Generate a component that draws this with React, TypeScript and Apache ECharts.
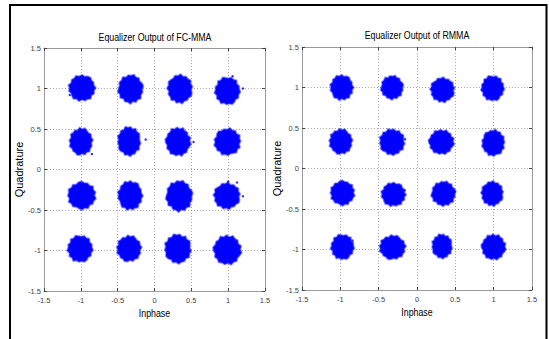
import React, { useEffect, useRef } from "react";
import * as echarts from "echarts";

// ---- Data (cluster centres and spreads) ----
// FC-MMA equalizer output: 16 clusters (in-phase, quadrature, half-width I, half-width Q)
const FC_I = [-0.984, -0.323, 0.346, 0.99, -0.998, -0.346, 0.319, 0.99, -0.988, -0.33, 0.337, 0.984, -1.01, -0.346, 0.316, 0.987];
const FC_Q = [1.006, 0.994, 0.994, 0.97, 0.343, 0.348, 0.343, 0.342, -0.321, -0.32, -0.327, -0.327, -0.98, -0.978, -0.979, -0.994];
const FC_RX = [0.19, 0.18, 0.18, 0.18, 0.165, 0.165, 0.18, 0.19, 0.2, 0.175, 0.19, 0.19, 0.18, 0.175, 0.19, 0.2];
const FC_RY = [0.17, 0.185, 0.185, 0.18, 0.177, 0.19, 0.185, 0.175, 0.18, 0.19, 0.2, 0.17, 0.175, 0.17, 0.19, 0.19];
// stray FC-MMA samples at the cluster edges
const FC_OUT_I = [-1.15, -0.85, -0.12, 0.53, 1.2, 1.06, 1.0, 1.12, 1.2];
const FC_OUT_Q = [0.92, 0.19, 0.37, 0.34, 1.0, 1.15, -0.15, -0.16, -0.33];

// RMMA equalizer output
const RM_I = [-0.981, -0.324, 0.333, 0.987, -0.994, -0.326, 0.317, 0.995, -0.972, -0.307, 0.346, 0.982, -0.972, -0.32, 0.326, 0.998];
const RM_Q = [1.0, 1.0, 0.97, 0.99, 0.331, 0.327, 0.327, 0.317, -0.302, -0.32, -0.31, -0.31, -0.97, -0.975, -0.96, -0.97];
const RM_RX = [0.158, 0.155, 0.167, 0.157, 0.158, 0.174, 0.174, 0.157, 0.167, 0.167, 0.167, 0.152, 0.159, 0.18, 0.14, 0.167];
const RM_RY = [0.165, 0.155, 0.16, 0.165, 0.165, 0.17, 0.16, 0.17, 0.16, 0.155, 0.16, 0.16, 0.165, 0.158, 0.158, 0.165];
const RM_OUT_I = [-0.84, -0.16, 0.49, -0.155];
const RM_OUT_Q = [-0.89, -0.27, -0.29, 0.36];

const TITLES = ["Equalizer Output of FC-MMA", "Equalizer Output of RMMA"];
const X_NAME = "Inphase";
const Y_NAME = "Quadrature";

// ---- style ----
const SANS = "'Liberation Sans', Arial, sans-serif";
const BLUE = "#0000ff";
// ragged outline of a cluster of samples (shape only)
const JAG = [1, 0.88, 0.97, 0.86, 1, 0.9, 0.95, 0.85, 0.99, 0.89, 1, 0.92, 0.87, 0.97, 0.9, 1, 0.86, 0.95, 0.9, 0.99, 0.88, 0.96, 0.85, 0.94, 0.98, 0.88, 0.93, 0.87];

const clusterRender = (params: any, api: any) => {
  const c = api.coord([api.value(0), api.value(1)]);
  const s = api.size([api.value(2), api.value(3)]);
  const n = JAG.length;
  const pts = JAG.map((m, k) => {
    const a = (k / n) * Math.PI * 2 + params.dataIndex * 0.7;
    return [c[0] + s[0] * m * Math.cos(a), c[1] + s[1] * m * Math.sin(a)];
  });
  return {
    type: "polygon",
    shape: { points: pts },
    style: { fill: BLUE, stroke: "rgba(50,50,255,0.5)", lineWidth: 1.8, lineJoin: "round" },
  };
};

const baseAxis = {
  type: "value" as const,
  min: -1.5,
  max: 1.5,
  interval: 0.5,
  axisLine: { show: true, onZero: false, lineStyle: { color: "#9a9a9a", width: 1 } },
  axisTick: { show: true, inside: true, length: 3, lineStyle: { color: "#444" } },
};

function xAxes(grid: number) {
  return [
    {
      ...baseAxis,
      gridIndex: grid,
      position: "bottom",
      axisLabel: { fontSize: 7.5, color: "#444", margin: 5, fontFamily: SANS, showMinLabel: true, showMaxLabel: true },
      splitLine: { show: true, lineStyle: { type: [1, 2], color: "#a8a8a8", width: 1 } },
    },
    {
      ...baseAxis,
      gridIndex: grid,
      position: "top",
      axisLabel: { show: false },
      splitLine: { show: false },
    },
  ];
}

function yAxes(grid: number, nameGap: number) {
  return [
    {
      ...baseAxis,
      gridIndex: grid,
      position: "left",
      axisLabel: { fontSize: 7.5, color: "#444", margin: 3, fontFamily: SANS, showMinLabel: true, showMaxLabel: true },
      splitLine: { show: true, lineStyle: { type: [1, 2], color: "#a8a8a8", width: 1 } },
      name: Y_NAME,
      nameLocation: "middle",
      nameGap,
      nameTextStyle: { fontSize: 11, color: "#000", fontFamily: SANS },
    },
    {
      ...baseAxis,
      gridIndex: grid,
      position: "right",
      axisLabel: { show: false },
      splitLine: { show: false },
    },
  ];
}

const narrowText = (text: string, x: number, y: number) => ({
  type: "text",
  x,
  y,
  scaleX: 0.8,
  silent: true,
  style: {
    text,
    fontSize: 11,
    fontFamily: SANS,
    fill: "#000",
    align: "center",
    verticalAlign: "middle",
    textAlign: "center",
    textVerticalAlign: "middle",
  },
});

export default function App() {
  const ref = useRef<HTMLDivElement>(null);

  useEffect(() => {
    if (!ref.current) return;
    const chart = echarts.init(ref.current, undefined, { renderer: "svg" });

    const fcData = FC_I.map((x, i) => [x, FC_Q[i], FC_RX[i], FC_RY[i]]);
    const rmData = RM_I.map((x, i) => [x, RM_Q[i], RM_RX[i], RM_RY[i]]);
    const fcOut = FC_OUT_I.map((x, i) => [x, FC_OUT_Q[i]]);
    const rmOut = RM_OUT_I.map((x, i) => [x, RM_OUT_Q[i]]);

    chart.setOption({
      animation: false,
      backgroundColor: "#fff",
      grid: [
        { left: 44, top: 48, width: 221, height: 243 },
        { left: 302, top: 47, width: 230, height: 243 },
      ],
      xAxis: [...xAxes(0), ...xAxes(1)],
      yAxis: [...yAxes(0, 13), ...yAxes(1, 15)],
      series: [
        { type: "custom", xAxisIndex: 0, yAxisIndex: 0, data: fcData, renderItem: clusterRender, encode: { x: 0, y: 1 }, z: 5 },
        { type: "scatter", xAxisIndex: 0, yAxisIndex: 0, data: fcOut, symbol: "circle", symbolSize: 2.5, itemStyle: { color: BLUE }, z: 5 },
        { type: "custom", xAxisIndex: 2, yAxisIndex: 2, data: rmData, renderItem: clusterRender, encode: { x: 0, y: 1 }, z: 5 },
        { type: "scatter", xAxisIndex: 2, yAxisIndex: 2, data: rmOut, symbol: "circle", symbolSize: 2.5, itemStyle: { color: BLUE }, z: 5 },
      ],
      graphic: [
        narrowText(TITLES[0], 155, 37),
        narrowText(TITLES[1], 417, 35),
        narrowText(X_NAME, 154.5, 313.5),
        narrowText(X_NAME, 417, 312),
        {
          type: "rect",
          shape: { x: 10, y: 5, width: 536.5, height: 400 },
          style: { fill: "none", stroke: "#000", lineWidth: 2 },
          silent: true,
          z: 100,
        },
      ],
    });

    return () => chart.dispose();
  }, []);

  return <div ref={ref} style={{ position: "fixed", left: 0, top: 0, width: 549, height: 339, background: "#fff" }} />;
}
